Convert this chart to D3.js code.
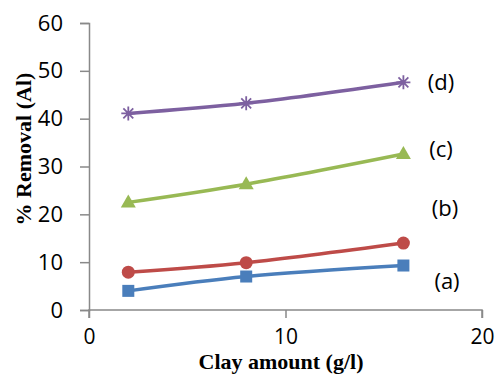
<!DOCTYPE html>
<html>
<head>
<meta charset="utf-8">
<script src="https://cdn.jsdelivr.net/npm/d3@7"></script>
<style>
  body { margin: 0; background: #fff; }
  svg { display: block; }
</style>
</head>
<body>
<svg id="chart" width="498" height="374"></svg>
<script>
// clay amount (g/l)
const clay = [2, 8, 16];
// % removal for each curve
const seriesA = [4.0, 7.0, 9.3];
const seriesB = [7.9, 9.9, 14.0];
const seriesC = [22.5, 26.3, 32.6];
const seriesD = [41.1, 43.2, 47.6];
const xTicks = [0, 10, 20];
const yTicks = [0, 10, 20, 30, 40, 50, 60];
const curveLabels = ['(a)', '(b)', '(c)', '(d)'];

const svg = d3.select('#chart');
const margin = {left: 89, top: 23, right: 16, bottom: 64};
const W = 498, H = 374;

const x = d3.scaleLinear().domain([0, 20]).range([margin.left, W - margin.right]);
const y = d3.scaleLinear().domain([0, 60]).range([H - margin.bottom, margin.top]);

const axisColor = '#898989';
const tickFont = '"Open Sans", sans-serif';

// y axis
const yAxis = svg.append('g')
    .attr('transform', `translate(${margin.left},0)`)
    .call(d3.axisLeft(y).tickValues(yTicks).tickSize(9).tickPadding(17));
// x axis
const xAxis = svg.append('g')
    .attr('transform', `translate(0,${y(0)})`)
    .call(d3.axisBottom(x).tickValues(xTicks).tickSize(8).tickPadding(11));

[yAxis, xAxis].forEach(g => {
    g.select('.domain').attr('stroke', axisColor).attr('stroke-width', 1.5);
    g.selectAll('.tick line').attr('stroke', axisColor).attr('stroke-width', 1.5);
    g.selectAll('.tick text')
        .attr('fill', '#000')
        .style('font-family', tickFont)
        .style('font-size', '22px');
});
xAxis.selectAll('.tick text').style('font-size', '21px');
// excel style: tick marks at both ends of the x axis
xAxis.select('.domain').attr('d', `M${x(0)},8V0H${x(20)}V8`);

// axis titles
svg.append('text')
    .attr('x', 281).attr('y', 369)
    .attr('text-anchor', 'middle')
    .style('font-family', '"Liberation Serif", "Times New Roman", serif')
    .style('font-weight', 'bold')
    .style('font-size', '22px')
    .text('Clay amount (g/l)');

svg.append('text')
    .attr('transform', 'translate(31,149) rotate(-90)')
    .attr('text-anchor', 'middle')
    .style('font-family', '"Liberation Serif", "Times New Roman", serif')
    .style('font-weight', 'bold')
    .style('font-size', '22px')
    .text('% Removal (Al)');

const series = [
    {values: seriesA, color: '#4a7ebb', marker: 'square'},
    {values: seriesB, color: '#be4b48', marker: 'circle'},
    {values: seriesC, color: '#98b954', marker: 'triangle'},
    {values: seriesD, color: '#7d60a0', marker: 'star'}
];

const line = d3.line()
    .x(d => x(d[0]))
    .y(d => y(d[1]))
    .curve(d3.curveCatmullRom.alpha(0.5));

series.forEach(s => {
    const pts = clay.map((c, i) => [c, s.values[i]]);
    const g = svg.append('g');
    g.append('path')
        .attr('d', line(pts))
        .attr('fill', 'none')
        .attr('stroke', s.color)
        .attr('stroke-width', 3.5);

    pts.forEach(p => {
        const cx = x(p[0]), cy = y(p[1]);
        if (s.marker === 'square') {
            g.append('rect')
                .attr('x', cx - 6).attr('y', cy - 6)
                .attr('width', 12).attr('height', 12)
                .attr('fill', s.color);
        } else if (s.marker === 'circle') {
            g.append('circle')
                .attr('cx', cx).attr('cy', cy).attr('r', 6.5)
                .attr('fill', s.color);
        } else if (s.marker === 'triangle') {
            g.append('path')
                .attr('d', `M${cx},${cy - 8}L${cx + 7.5},${cy + 5}L${cx - 7.5},${cy + 5}Z`)
                .attr('fill', s.color);
        } else {
            const r = 7;
            const d = [0, 45, 90, 135].map(a => {
                const t = a * Math.PI / 180;
                return `M${cx - r * Math.cos(t)},${cy - r * Math.sin(t)}L${cx + r * Math.cos(t)},${cy + r * Math.sin(t)}`;
            }).join('');
            g.append('path')
                .attr('d', d)
                .attr('stroke', s.color)
                .attr('stroke-width', 1.8);
        }
    });
});

// curve labels
const labelPos = [[447, 280], [445, 207], [441, 148], [441, 81]];
curveLabels.forEach((t, i) => {
    svg.append('text')
        .attr('x', labelPos[i][0]).attr('y', labelPos[i][1])
        .attr('text-anchor', 'middle')
        .attr('dominant-baseline', 'central')
        .style('font-family', tickFont)
        .style('font-size', '22px')
        .text(t);
});
</script>
</body>
</html>
